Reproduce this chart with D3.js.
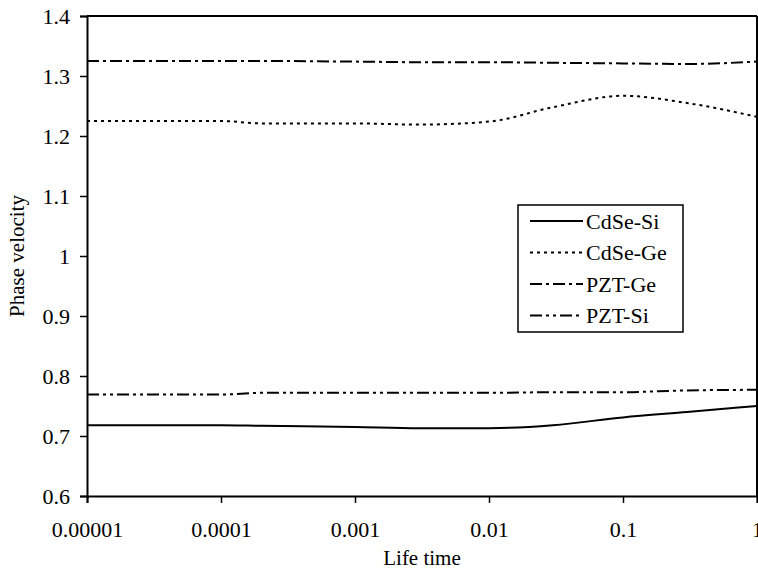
<!DOCTYPE html>
<html>
<head>
<meta charset="utf-8">
<script src="https://cdn.jsdelivr.net/npm/d3@7"></script>
<style>
  body { margin: 0; background: #fff; }
  svg { display: block; }
  text { font-family: "Liberation Serif", "Times New Roman", serif; fill: #000; }
</style>
</head>
<body>
<div id="chart"></div>
<script>
// life time values (x, log scale)
const lifeTimes = [1e-5, 1e-4, 2e-4, 1e-3, 3e-3, 1e-2, 3e-2, 0.1, 0.3, 1];

// phase velocity per material pair
const cdseSi = [0.718, 0.718, 0.717, 0.715, 0.713, 0.713, 0.718, 0.731, 0.740, 0.750];
const cdseGe = [1.225, 1.225, 1.221, 1.221, 1.219, 1.224, 1.248, 1.267, 1.255, 1.232];
const pztGe  = [1.325, 1.325, 1.325, 1.324, 1.323, 1.323, 1.322, 1.321, 1.320, 1.324];
const pztSi  = [0.769, 0.769, 0.772, 0.772, 0.772, 0.772, 0.773, 0.773, 0.776, 0.777];

const seriesNames = ['CdSe-Si', 'CdSe-Ge', 'PZT-Ge', 'PZT-Si'];
const xTicks = [1e-5, 1e-4, 1e-3, 1e-2, 1e-1, 1];
const xTickLabels = ['0.00001', '0.0001', '0.001', '0.01', '0.1', '1'];
const yTicks = [0.6, 0.7, 0.8, 0.9, 1.0, 1.1, 1.2, 1.3, 1.4];
const yTickLabels = ['0.6', '0.7', '0.8', '0.9', '1', '1.1', '1.2', '1.3', '1.4'];

const FONT = '"Liberation Serif", "Times New Roman", serif';
const W = 758, H = 572;
const margin = { top: 16, right: 1, bottom: 76, left: 87 };
const width = W - margin.left - margin.right;
const height = H - margin.top - margin.bottom;

const svg = d3.select('#chart').append('svg')
  .attr('width', W)
  .attr('height', H)
  .attr('font-family', FONT);

const g = svg.append('g')
  .attr('transform', `translate(${margin.left},${margin.top})`);

const x = d3.scaleLog().domain([1e-5, 1]).range([0, width]);
const y = d3.scaleLinear().domain([0.6, 1.4]).range([height, 0]);

// axes
const xAxis = d3.axisBottom(x)
  .tickValues(xTicks)
  .tickFormat((d, i) => xTickLabels[i])
  .tickSize(7)
  .tickPadding(18);
const yAxis = d3.axisLeft(y)
  .tickValues(yTicks)
  .tickFormat((d, i) => yTickLabels[i])
  .tickSize(7)
  .tickPadding(10);

const gx = g.append('g').attr('transform', `translate(0,${height})`).call(xAxis);
const gy = g.append('g').call(yAxis);
[gx, gy].forEach(a => {
  a.attr('font-family', FONT);
  a.select('.domain').attr('stroke', '#000').attr('stroke-width', 2);
  a.selectAll('.tick line').attr('stroke', '#000').attr('stroke-width', 1.5);
  a.selectAll('.tick text').style('font-size', '22px').attr('fill', '#000');
});

// top and right frame
g.append('line').attr('x1', 0).attr('x2', width).attr('y1', 0).attr('y2', 0)
  .attr('stroke', '#000').attr('stroke-width', 2);
g.append('line').attr('x1', width).attr('x2', width).attr('y1', 0).attr('y2', height)
  .attr('stroke', '#000').attr('stroke-width', 2);

// series lines
const styles = [
  { dash: null },
  { dash: '3,4' },
  { dash: '12,4,3,4' },
  { dash: '12,4,3,4,3,4' }
];
const allSeries = [cdseSi, cdseGe, pztGe, pztSi];

const line = d3.line()
  .x((d, i) => x(lifeTimes[i]))
  .y(d => y(d))
  .curve(d3.curveMonotoneX);

allSeries.forEach((vals, k) => {
  g.append('path')
    .datum(vals)
    .attr('fill', 'none')
    .attr('stroke', '#000')
    .attr('stroke-width', 2)
    .attr('stroke-dasharray', styles[k].dash)
    .attr('d', line);
});

// legend
const legend = svg.append('g').attr('transform', 'translate(518,205)');
legend.append('rect')
  .attr('width', 165).attr('height', 127)
  .attr('fill', '#fff').attr('stroke', '#000').attr('stroke-width', 1.5);

seriesNames.forEach((name, k) => {
  const cy = 16 + k * 31.5;
  legend.append('line')
    .attr('x1', 12).attr('x2', 65).attr('y1', cy).attr('y2', cy)
    .attr('stroke', '#000').attr('stroke-width', 2)
    .attr('stroke-dasharray', styles[k].dash);
  legend.append('text')
    .attr('x', 68).attr('y', cy).attr('dy', '0.35em')
    .style('font-size', '22px')
    .text(name);
});

// axis titles
svg.append('text')
  .attr('x', margin.left + width / 2).attr('y', 565)
  .attr('text-anchor', 'middle')
  .style('font-size', '21px')
  .text('Life time');

svg.append('text')
  .attr('transform', `translate(24,${margin.top + height / 2}) rotate(-90)`)
  .attr('text-anchor', 'middle')
  .style('font-size', '21px')
  .text('Phase velocity');
</script>
</body>
</html>
